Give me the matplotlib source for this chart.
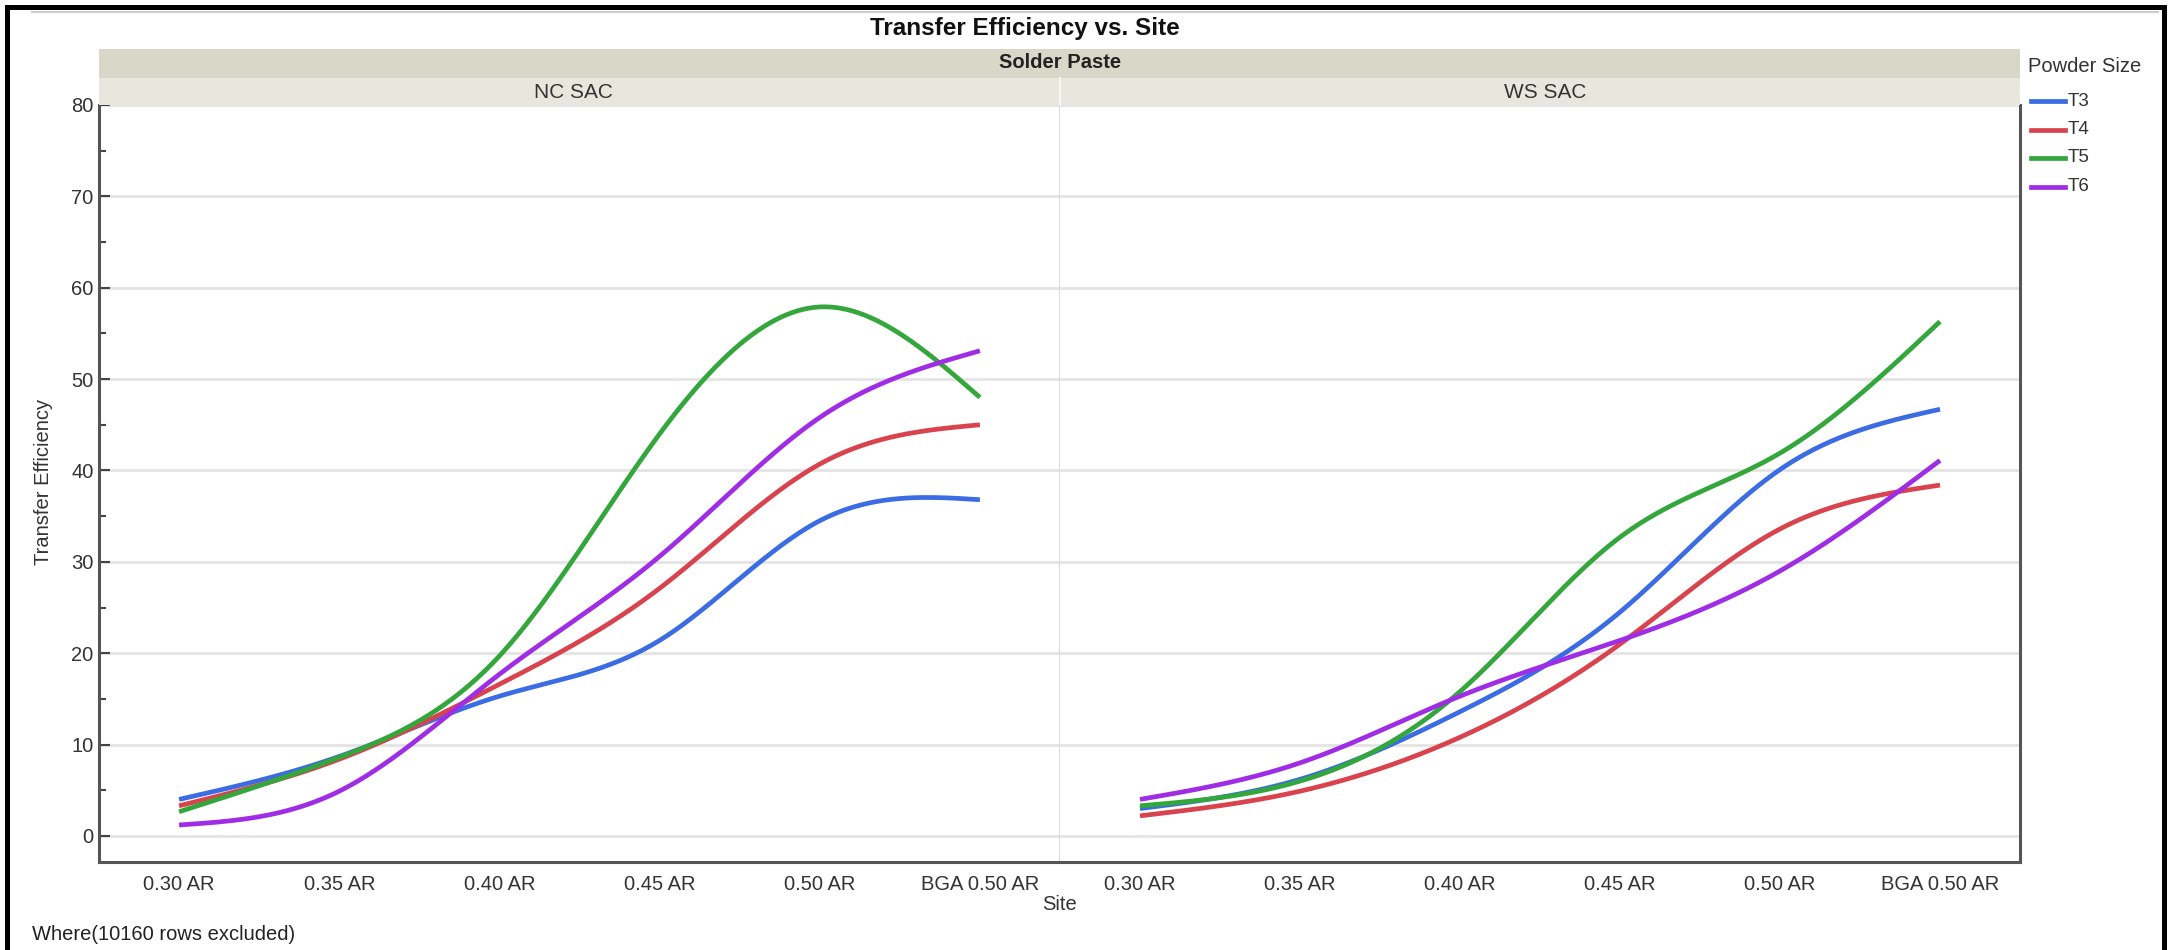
import numpy as np
import matplotlib
matplotlib.use("Agg")
import matplotlib.pyplot as plt
from matplotlib.patches import Rectangle
from matplotlib.lines import Line2D

plt.rcParams['font.family'] = ['Liberation Sans', 'DejaVu Sans']

# data
sites = ["0.30 AR", "0.35 AR", "0.40 AR", "0.45 AR", "0.50 AR", "BGA 0.50 AR"]
sizes = ["T3", "T4", "T5", "T6"]
colors = ["#3b6ce3", "#d8434e", "#33a63c", "#a02de6"]

nc_t3 = [4.0, 8.7, 15.3, 21.4, 34.5, 36.8]
nc_t4 = [3.3, 8.4, 16.6, 27.1, 40.7, 45.0]
nc_t5 = [2.65, 8.6, 19.7, 44.0, 57.9, 48.0]
nc_t6 = [1.2, 4.9, 17.7, 30.6, 45.8, 53.1]

ws_t3 = [3.0, 6.2, 13.6, 24.5, 40.1, 46.7]
ws_t4 = [2.2, 4.9, 10.8, 21.0, 33.6, 38.4]
ws_t5 = [3.3, 6.0, 15.8, 32.7, 41.9, 56.3]
ws_t6 = [4.0, 8.0, 15.3, 21.4, 29.0, 41.1]

panels = {"NC SAC": [nc_t3, nc_t4, nc_t5, nc_t6],
          "WS SAC": [ws_t3, ws_t4, ws_t5, ws_t6]}


def smooth(x, y, n=300):
    # natural cubic spline through the points
    x = np.asarray(x, float)
    y = np.asarray(y, float)
    k = len(x)
    h = np.diff(x)
    A = np.zeros((k, k))
    b = np.zeros(k)
    A[0, 0] = 1
    A[-1, -1] = 1
    for i in range(1, k - 1):
        A[i, i - 1] = h[i - 1]
        A[i, i] = 2 * (h[i - 1] + h[i])
        A[i, i + 1] = h[i]
        b[i] = 6 * ((y[i + 1] - y[i]) / h[i] - (y[i] - y[i - 1]) / h[i - 1])
    m = np.linalg.solve(A, b)
    xs = np.linspace(x[0], x[-1], n)
    idx = np.clip(np.searchsorted(x, xs) - 1, 0, k - 2)
    t = xs - x[idx]
    hi = h[idx]
    a = (m[idx + 1] - m[idx]) / (6 * hi)
    bb = m[idx] / 2
    c = (y[idx + 1] - y[idx]) / hi - hi * (2 * m[idx] + m[idx + 1]) / 6
    ys = y[idx] + c * t + bb * t ** 2 + a * t ** 3
    return xs, ys


W, H = 2177, 950
fig = plt.figure(figsize=(W / 100, H / 100), dpi=100)

def fx(px):
    return px / W

def fy(py):
    return 1 - py / H

left, mid, right = 99, 1060, 2020
top, bottom = 105, 862

ax1 = fig.add_axes([fx(left), fy(bottom), fx(mid - left), (bottom - top) / H])
ax2 = fig.add_axes([fx(mid), fy(bottom), fx(right - mid), (bottom - top) / H], sharey=ax1)

xpos = np.arange(len(sites))
for ax, (name, series) in zip([ax1, ax2], panels.items()):
    for vals, col, lab in zip(series, colors, sizes):
        xs, ys = smooth(xpos, vals)
        ax.plot(xs, ys, color=col, lw=3.4, solid_capstyle='butt', label=lab)
    ax.set_xlim(-0.5, 5.5)
    ax.set_ylim(-2.85, 80)
    ax.set_yticks(np.arange(0, 81, 10))
    ax.set_yticks(np.arange(5, 80, 10), minor=True)
    ax.grid(axis='y', which='major', color='#e4e4e4', lw=2)
    ax.set_axisbelow(True)
    ax.set_xticks(xpos)
    ax.set_xticklabels(sites, fontsize=14.5, color='#333333')
    ax.tick_params(axis='x', length=0, pad=9)
    ax.spines['top'].set_visible(False)
    ax.spines['bottom'].set_color('#555555')
    ax.spines['bottom'].set_linewidth(2.2)

ax1.tick_params(axis='y', direction='in', length=8, width=1.5, color='#444444',
                labelsize=14.5, labelcolor='#333333', pad=4)
ax1.tick_params(axis='y', which='minor', direction='in', length=5, width=1.5, color='#444444')
ax1.spines['left'].set_color('#555555')
ax1.spines['left'].set_linewidth(2.2)
ax1.spines['right'].set_color('#dddddd')
ax1.spines['right'].set_linewidth(1.5)
ax2.tick_params(axis='y', which='both', length=0, labelleft=False)
ax2.spines['left'].set_visible(False)
ax2.spines['right'].set_color('#555555')
ax2.spines['right'].set_linewidth(2.2)

# header strips
fig.add_artist(Rectangle((fx(left), fy(78)), fx(right - left), 29 / H,
                         transform=fig.transFigure, facecolor='#d9d7c7', edgecolor='none'))
fig.add_artist(Rectangle((fx(left), fy(top)), fx(right - left), 27 / H,
                         transform=fig.transFigure, facecolor='#e8e7de', edgecolor='none'))
fig.add_artist(Line2D([fx(mid), fx(mid)], [fy(top), fy(78)], color='#f6f6f2', lw=1.5))

fig.text(fx(1025), fy(29), "Transfer Efficiency vs. Site", ha='center', va='center',
         fontsize=17.5, fontweight='bold', color='#111111')
fig.text(fx(mid), fy(63), "Solder Paste", ha='center', va='center',
         fontsize=14.5, fontweight='bold', color='#222222')
fig.text(fx(573), fy(92), "NC SAC", ha='center', va='center', fontsize=15, color='#333333')
fig.text(fx(1545), fy(92), "WS SAC", ha='center', va='center', fontsize=15, color='#333333')

fig.text(fx(44), fy(482), "Transfer Efficiency", rotation=90, ha='center', va='center',
         fontsize=14.5, color='#333333')
fig.text(fx(mid), fy(905), "Site", ha='center', va='center', fontsize=14.5, color='#333333')
fig.text(fx(32), fy(934), "Where(10160 rows excluded)", ha='left', va='center',
         fontsize=14.5, color='#222222')

# legend
fig.text(fx(2028), fy(67), "Powder Size", ha='left', va='center', fontsize=14.5, color='#333333')
for i, (lab, col) in enumerate(zip(sizes, colors)):
    yy = 101 + i * 28.5
    fig.add_artist(Line2D([fx(2031), fx(2065)], [fy(yy), fy(yy)], color=col, lw=3.4))
    fig.text(fx(2068), fy(yy), lab, ha='left', va='center', fontsize=13.5, color='#333333')

# screenshot frame
fig.add_artist(Line2D([fx(32), fx(2158)], [fy(12), fy(12)], color='#cccccc', lw=1.5))
fig.add_artist(Rectangle((fx(7), fy(960)), fx(2164 - 7), (960 - 6.5) / H,
                         transform=fig.transFigure, facecolor='none',
                         edgecolor='black', lw=3.6))

fig.savefig("out.png", dpi=100)
